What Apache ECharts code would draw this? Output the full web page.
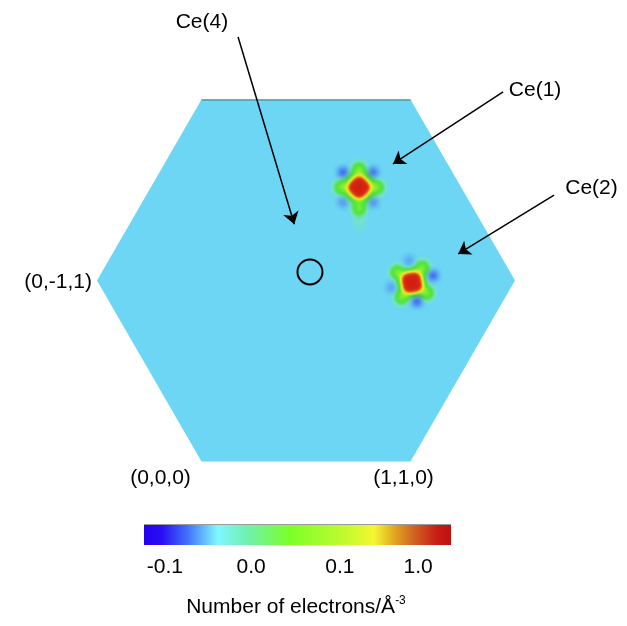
<!DOCTYPE html>
<html>
<head>
<meta charset="utf-8">
<script src="https://cdn.jsdelivr.net/npm/echarts@6/dist/echarts.min.js"></script>
<style>
  html, body { margin: 0; padding: 0; background: #fff; }
  #chart { width: 627px; height: 626px; }
</style>
</head>
<body>
<div id="chart"></div>
<script>
// Section plane drawn as a regular hexagon, side length 1, y pointing up.
const H = Math.sqrt(3) / 2;
const hexVertices = [[-1, 0], [-0.5, -H], [0.5, -H], [1, 0], [0.5, H], [-0.5, H]];

// Lattice points at three of the corners
const cornerNames = ['(0,0,0)', '(1,1,0)', '(0,-1,1)'];
const cornerPoints = [[-0.5, -H], [0.5, -H], [-1, 0]];

// Positive difference density around Ce(1): [x, y, level]
const ce1Peaks = [
  [0.254, 0.447, 1.0],
  [0.283, 0.447, 0.95], [0.225, 0.447, 0.95], [0.254, 0.476, 0.95], [0.254, 0.418, 0.95],
  [0.340, 0.447, 0.5], [0.168, 0.447, 0.5], [0.254, 0.533, 0.5], [0.254, 0.351, 0.5],
  [0.292, 0.485, 0.28], [0.216, 0.485, 0.28], [0.292, 0.409, 0.28], [0.216, 0.409, 0.28],
  [0.254, 0.300, 0.10], [0.254, 0.256, 0.06]
];
// Positive difference density around Ce(2)
const ce2Peaks = [
  [0.507, -0.007, 1.0],
  [0.523, 0.016, 0.95], [0.531, -0.024, 0.95], [0.491, -0.031, 0.95], [0.484, 0.010, 0.95],
  [0.556, 0.064, 0.5], [0.578, -0.056, 0.5], [0.458, -0.078, 0.5], [0.437, 0.042, 0.5],
  [0.500, 0.031, 0.28], [0.545, 0.000, 0.28], [0.514, -0.045, 0.28], [0.469, -0.014, 0.28]
];

// Negative density pockets next to each site: [x, y, depth]
const ce1Holes = [[0.177, 0.519, 1.0], [0.321, 0.519, 0.9], [0.177, 0.376, 0.55], [0.321, 0.376, 0.6]];
const ce2Holes = [[0.493, 0.098, 0.45], [0.608, 0.026, 1.0], [0.531, -0.098, 1.0], [0.407, -0.031, 0.45]];

// Empty Ce(4) site
const ce4Site = [0.019, 0.041];

// Site annotations
const siteNames = ['Ce(4)', 'Ce(1)', 'Ce(2)'];
const arrowFrom = [[-0.325, 1.165], [0.943, 0.902], [1.187, 0.409]];
const arrowTo = [[-0.056, 0.269], [0.416, 0.558], [0.728, 0.127]];
const siteLabelAt = [[-0.498, 1.237], [1.096, 0.911], [1.366, 0.443]];

// Colour scale
const scaleTicks = ['-0.1', '0.0', '0.1', '1.0'];
const scaleTickAt = [0.068, 0.349, 0.638, 0.893];
const scaleStops = [
  [0, '#2200f0'], [0.06, '#2a10f4'], [0.14, '#4070fa'], [0.24, '#7ff8ff'],
  [0.335, '#70f0b0'], [0.475, '#7cff28'], [0.66, '#c4fa30'], [0.75, '#f6f630'],
  [0.82, '#e0a020'], [0.875, '#d06822'], [0.955, '#c81c16'], [1, '#c01010']
];
const scaleTitle = 'Number of electrons/Å';
const scaleUnitPower = '-3';

const BG = '#6cd6f4';
const FONT = 'Liberation Sans, Arial, Helvetica, sans-serif';
const FS = 21;

echarts.registerMap('section', {
  type: 'FeatureCollection',
  features: [{
    type: 'Feature',
    properties: { name: 'section' },
    geometry: { type: 'Polygon', coordinates: [hexVertices.concat([hexVertices[0]])] }
  }]
});

const chart = echarts.init(document.getElementById('chart'), null, { renderer: 'canvas' });

// Colour bar geometry
const bar = { x: 144, y: 524, w: 307, h: 21 };

const graphic = [
  {
    type: 'rect',
    shape: { x: bar.x, y: bar.y, width: bar.w, height: bar.h },
    style: {
      fill: new echarts.graphic.LinearGradient(0, 0, 1, 0,
        scaleStops.map(s => ({ offset: s[0], color: s[1] })))
    },
    silent: true
  },
  {
    type: 'line',
    shape: { x1: bar.x, y1: bar.y + 0.5, x2: bar.x + bar.w, y2: bar.y + 0.5 },
    style: { stroke: '#9a9a9a', lineWidth: 1 },
    silent: true
  }
].concat(scaleTicks.map((t, i) => ({
  type: 'text',
  x: bar.x + bar.w * scaleTickAt[i],
  y: 567,
  style: { text: t, fill: '#000', font: FS + 'px ' + FONT, align: 'center', verticalAlign: 'middle' },
  silent: true
}))).concat([{
  type: 'text',
  x: 296,
  y: 607,
  style: {
    text: '{m|' + scaleTitle + '}{s|' + scaleUnitPower + '}',
    align: 'center',
    verticalAlign: 'middle',
    rich: {
      m: { fontSize: FS, fontFamily: FONT, fill: '#000', color: '#000', lineHeight: 24 },
      s: { fontSize: 12, fontFamily: FONT, fill: '#000', color: '#000', verticalAlign: 'top', lineHeight: 14 }
    }
  },
  silent: true
}]);

const labelStyle = { color: '#000', fontSize: FS, fontFamily: FONT };

chart.setOption({
  animation: false,
  backgroundColor: '#fff',
  geo: {
    map: 'section',
    roam: false,
    silent: true,
    aspectScale: 1,
    layoutCenter: [306, 280.5],
    layoutSize: 418,
    itemStyle: { areaColor: BG, borderWidth: 0, borderColor: BG },
    emphasis: { disabled: true },
    select: { disabled: true },
    label: { show: false }
  },
  visualMap: [
    {
      type: 'continuous', seriesIndex: 0, min: 0, max: 1, show: false, calculable: false,
      inRange: { color: [BG, '#74e2d0', '#62e478', '#52e244', '#5ce838', '#8cee30', '#d4f028', '#f0d020', '#e87018', '#d83014', '#d01c10'] }
    },
    {
      type: 'continuous', seriesIndex: 1, min: 0, max: 1, show: false, calculable: false,
      inRange: { color: ['#1e20ea', '#1e20ea'] }
    }
  ],
  series: [
    {
      type: 'heatmap', coordinateSystem: 'geo',
      data: ce1Peaks.concat(ce2Peaks),
      pointSize: 7, blurSize: 6, minOpacity: 1, maxOpacity: 1
    },
    {
      type: 'heatmap', coordinateSystem: 'geo',
      data: ce1Holes.concat(ce2Holes),
      pointSize: 4, blurSize: 6, minOpacity: 0, maxOpacity: 1
    },
    {
      type: 'lines', coordinateSystem: 'geo', silent: true, symbol: ['none', 'none'],
      lineStyle: { color: '#4f9ea6', width: 1.5, opacity: 1 },
      data: [{ coords: [hexVertices[5], hexVertices[4]] }]
    },
    {
      type: 'lines', coordinateSystem: 'geo', silent: true, z: 5,
      symbol: ['none', 'arrow'], symbolSize: 12,
      lineStyle: { color: '#000', width: 1.5, opacity: 1, curveness: 0 },
      itemStyle: { color: '#000' },
      data: arrowFrom.map((p, i) => ({ coords: [p, arrowTo[i]] }))
    },
    {
      type: 'scatter', coordinateSystem: 'geo', silent: true, z: 5,
      symbol: 'circle', symbolSize: 25,
      itemStyle: { color: 'rgba(0,0,0,0)', borderColor: '#000', borderWidth: 2, opacity: 1 },
      data: [ce4Site]
    },
    {
      type: 'scatter', coordinateSystem: 'geo', silent: true, z: 5,
      symbolSize: 0, itemStyle: { opacity: 1 },
      label: Object.assign({ show: true, position: 'inside', formatter: '{b}' }, labelStyle),
      data: siteLabelAt.map((p, i) => ({ name: siteNames[i], value: p }))
    },
    {
      type: 'scatter', coordinateSystem: 'geo', silent: true, z: 5,
      symbolSize: 0, itemStyle: { opacity: 1 },
      label: Object.assign({ show: true, formatter: '{b}' }, labelStyle),
      data: [
        { name: cornerNames[0], value: cornerPoints[0], label: { position: 'inside', offset: [-41, 17] } },
        { name: cornerNames[1], value: cornerPoints[1], label: { position: 'inside', offset: [-7, 17] } },
        { name: cornerNames[2], value: cornerPoints[2], label: { position: 'left', distance: 5, offset: [0, 2] } }
      ]
    }
  ],
  graphic: graphic
});
</script>
</body>
</html>
